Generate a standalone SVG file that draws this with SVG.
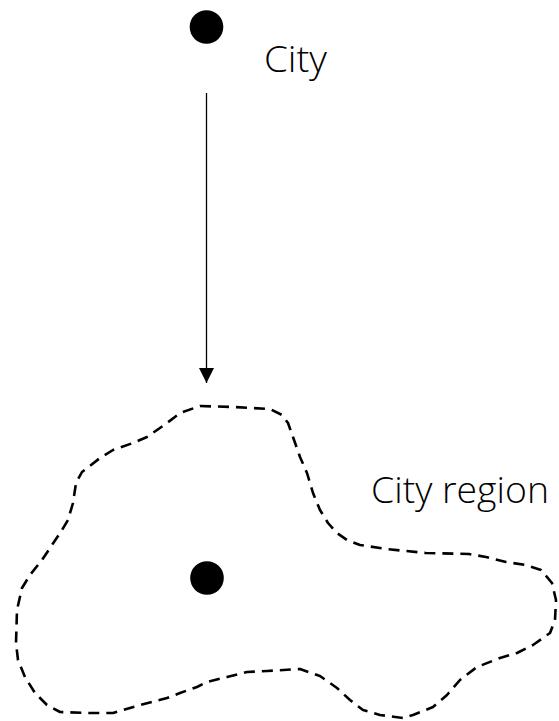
<svg xmlns="http://www.w3.org/2000/svg" width="559" height="721" viewBox="0 0 559 721">
<style>
.lbl{font-family:"Open Sans","Liberation Sans",sans-serif;font-size:36px;fill:#000;font-weight:300}
.dot{fill:#000}
.region{fill:none;stroke:#000;stroke-width:2.6;stroke-dasharray:11 7;stroke-linejoin:round}
.conn{stroke:#000;stroke-width:1.3;fill:none}
</style>
<defs>
<marker id="arr" markerUnits="userSpaceOnUse" markerWidth="16" markerHeight="16" refX="15" refY="7.5" orient="auto">
<path d="M0,0 L15,7.5 L0,15 Z" fill="#000"/>
</marker>
</defs>
<g id="city">
<circle class="dot" cx="206.5" cy="27" r="16.8"/>
<text class="lbl" x="264" y="72" textLength="63" lengthAdjust="spacingAndGlyphs">City</text>
</g>
<g id="city-region">
<path class="region" d="M200,406 L233,407 L270,409 L282,415 L288,423 L293,437 L300,457 L307,473 L313,493 L320,510 L328,523 L337,533 L347,540 L360,545 L386,549 L426,553 L469,554 L486,557 L506,562 L526,565 L541,570 L552,583 L556,600 L555,620 L550,633 L533,645 L517,653 L500,658 L477,667 L460,680 L447,695 L433,707 L413,715 L403,718 L380,715 L363,710 L350,700 L337,688 L320,676 L300,669 L267,671 L247,672 L227,677 L207,682 L197,687 L180,693 L167,698 L140,705 L123,710 L113,713 L87,713 L60,712 L47,705 L35,693 L25,677 L18,660 L16,643 L17,610 L22,588 L30,575 L42,560 L52,545 L62,530 L68,520 L73,503 L76,483 L82,472 L100,458 L113,450 L133,443 L147,437 L167,423 L180,413 Z"/>
<circle class="dot" cx="207" cy="578" r="16.8"/>
<text class="lbl" x="371" y="503" textLength="178" lengthAdjust="spacingAndGlyphs">City region</text>
</g>
<g id="connectors">
<line class="conn" x1="206.5" y1="93" x2="206.5" y2="383" marker-end="url(#arr)"/>
</g>
</svg>
